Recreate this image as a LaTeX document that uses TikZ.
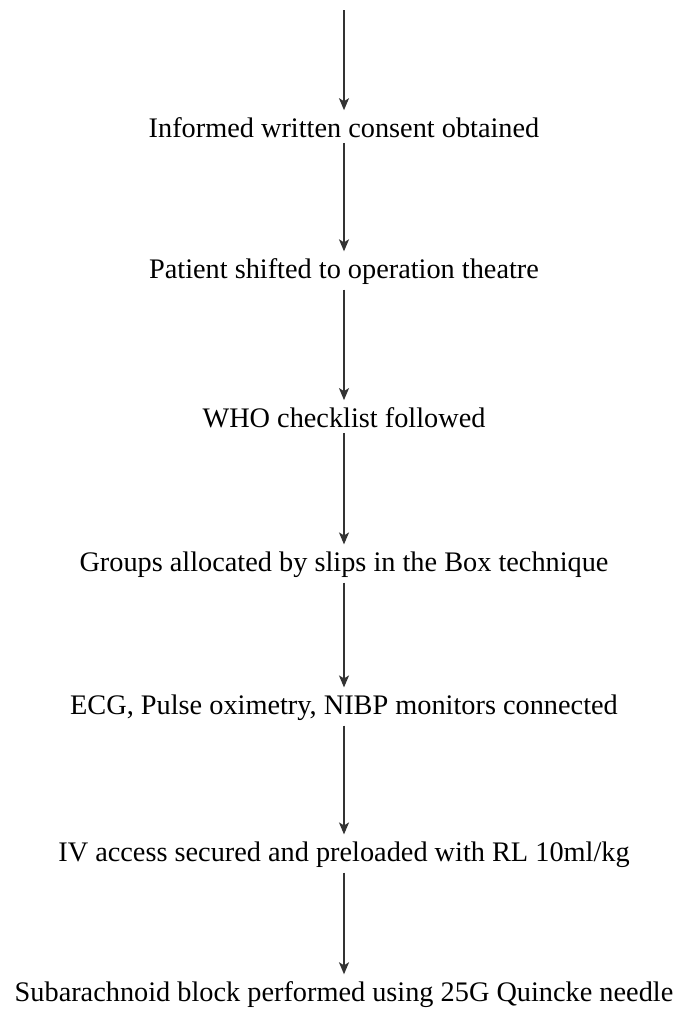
\documentclass[tikz,border=0pt]{standalone}
\usepackage{fontspec}
\setmainfont{Liberation Serif}
\usetikzlibrary{arrows.meta, positioning}

\begin{document}
\begin{tikzpicture}[x=1pt, y=-1pt, every node/.style={font=\fontsize{28.3}{34}\selectfont, inner sep=4.5pt},
	flow/.style={-{Stealth[length=12pt, width=10pt, inset=3pt]}, line width=1.5pt, black!80, shorten >=3pt}]
	\useasboundingbox (0,0) rectangle (678,1013);

	% Draw the steps
	\coordinate (start) at (344, 10);
	\node (consent) at (344, 128) {Informed written consent obtained};
	\node (shifted) at (344, 272) {Patient shifted to operation theatre};
	\node (who) at (344, 418) {WHO checklist followed};
	\node (groups) at (344, 565) {Groups allocated by slips in the Box technique};
	\node (monitors) at (344, 708) {ECG, Pulse oximetry, NIBP monitors connected};
	\node (access) at (344, 855) {IV access secured and preloaded with RL 10ml/kg};
	\node (block) at (344, 995) {Subarachnoid block performed using 25G Quincke needle};

	% Draw the arrows between the steps
	\draw[flow] (start) -- (consent);
	\draw[flow] (consent) -- (shifted);
	\draw[flow] (shifted) -- (who);
	\draw[flow] (who) -- (groups);
	\draw[flow] (groups) -- (monitors);
	\draw[flow] (monitors) -- (access);
	\draw[flow] (access) -- (block);

\end{tikzpicture}
\end{document}
